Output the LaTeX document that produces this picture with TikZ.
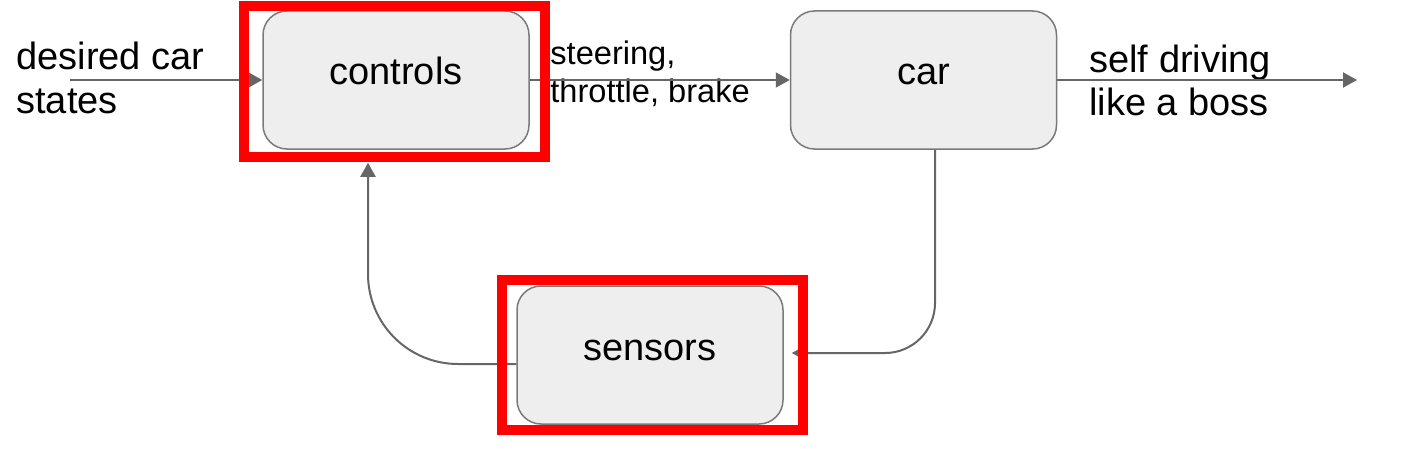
\documentclass[tikz,border=0pt]{standalone}
\usepackage{fontspec}
\setmainfont{Liberation Sans}
\usetikzlibrary{arrows.meta,calc}
\definecolor{boxfill}{HTML}{EEEEEE}
\definecolor{boxline}{HTML}{7A7A7A}
\definecolor{linegray}{HTML}{666666}
\definecolor{hilite}{HTML}{FF0000}
\tikzset{
  blockbox/.style={draw=boxline, fill=boxfill, line width=0.75pt, rounded corners=12pt,
    minimum width=133pt, minimum height=69pt, inner sep=0pt,
    text height=12pt, text depth=7pt,
    font=\fontsize{19pt}{22pt}\selectfont},
  conn/.style={draw=linegray, line width=1pt,
    -{Triangle[length=7pt,width=7.5pt]}},
  lbl/.style={inner sep=0pt, anchor=base west, align=left,
    font=\fontsize{19pt}{21.5pt}\selectfont},
  smalllbl/.style={inner sep=0pt, anchor=base west, align=left,
    font=\fontsize{16.3pt}{19pt}\selectfont},
  hibox/.style={draw=hilite, line width=5pt}
}
\begin{document}
\begin{tikzpicture}[x=0.5pt,y=-0.5pt]
\useasboundingbox (0,0) rectangle (1402,449);
% boxes
\node[blockbox] (controls) at (396,80) {controls};
\node[blockbox] (car) at (923.5,80) {car};
\node[blockbox] (sensors) at (650,355) {sensors};
% texts (anchored at the baseline of the last line)
\node[lbl] (desired) at (16,113) {desired car\\states};
\node[smalllbl] (steer) at (550,103) {steering,\\throttle, brake};
\node[lbl] (self) at (1089,116) {self driving\\like a boss};
% free ends
\coordinate (inpt) at (70,80);
\coordinate (outpt) at (1357,80);
% connectors
\draw[conn] (inpt) -- (controls.west);
\draw[conn] (controls.east) -- (car.west);
\draw[conn] (car.east) -- (outpt);
\draw[conn, rounded corners=25pt] ([xshift=5.75pt]car.south) |- ([xshift=4pt,yshift=1pt]sensors.east);
\draw[conn, rounded corners=45pt] ([yshift=-4.5pt]sensors.west) -| ([xshift=-14pt,yshift=-6.5pt]controls.south);
% highlight frames
\draw[hibox] (244,6) rectangle (545,157);
\draw[hibox] (502,280) rectangle (803,430);
\end{tikzpicture}
\end{document}
